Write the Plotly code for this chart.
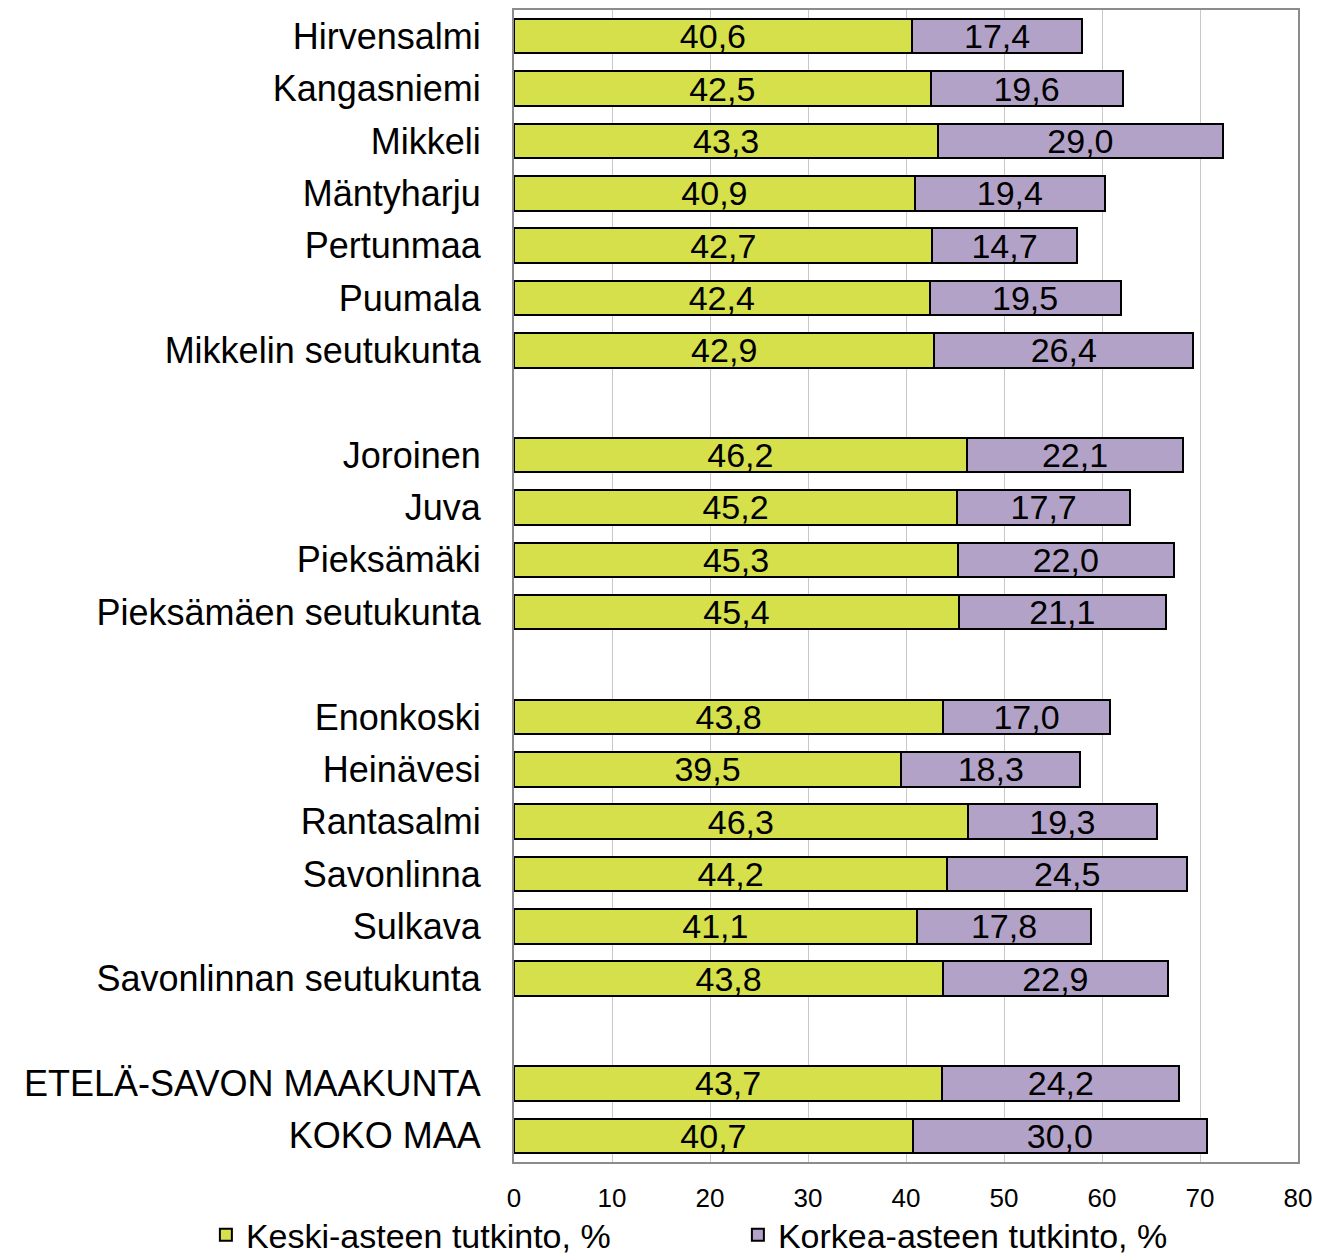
import plotly.graph_objects as go

categories = ["Hirvensalmi", "Kangasniemi", "Mikkeli", "Mäntyharju", "Pertunmaa", "Puumala",
              "Mikkelin seutukunta", " ",
              "Joroinen", "Juva", "Pieksämäki", "Pieksämäen seutukunta", "  ",
              "Enonkoski", "Heinävesi", "Rantasalmi", "Savonlinna", "Sulkava",
              "Savonlinnan seutukunta", "   ",
              "ETELÄ-SAVON MAAKUNTA", "KOKO MAA"]
keski = [40.6, 42.5, 43.3, 40.9, 42.7, 42.4, 42.9, None,
         46.2, 45.2, 45.3, 45.4, None,
         43.8, 39.5, 46.3, 44.2, 41.1, 43.8, None,
         43.7, 40.7]
korkea = [17.4, 19.6, 29.0, 19.4, 14.7, 19.5, 26.4, None,
          22.1, 17.7, 22.0, 21.1, None,
          17.0, 18.3, 19.3, 24.5, 17.8, 22.9, None,
          24.2, 30.0]
series_names = ["Keski-asteen tutkinto, %", "Korkea-asteen tutkinto, %"]
x_ticks = [0, 10, 20, 30, 40, 50, 60, 70, 80]

FONT = "Liberation Sans, Arial, sans-serif"

fig = go.Figure()
for name, vals, color in [(series_names[0], keski, "#D5E04B"),
                          (series_names[1], korkea, "#B3A2C7")]:
    fig.add_trace(go.Bar(
        y=categories, x=vals, name=name, orientation="h",
        marker=dict(color=color, line=dict(color="black", width=2)),
        texttemplate="%{x:.1f}", textposition="inside", insidetextanchor="middle",
        textfont=dict(family=FONT, size=34, color="black"),
        constraintext="none", cliponaxis=False,
    ))

fig.update_layout(
    template="none",
    barmode="stack", bargap=0.34,
    separators=", ",
    width=1324, height=1250,
    margin=dict(l=506, r=34, t=2, b=96, autoexpand=False),
    paper_bgcolor="white", plot_bgcolor="white",
    font=dict(family=FONT, color="black"),
    legend=dict(orientation="h", traceorder="normal",
                x=-0.393, xref="paper", xanchor="left",
                y=-0.0635, yref="paper", yanchor="middle",
                font=dict(family=FONT, size=34),
                itemwidth=30, entrywidth=487, bgcolor="rgba(0,0,0,0)"),
    showlegend=True,
)
fig.update_xaxes(range=[0, 80], tickvals=x_ticks, showgrid=True, gridcolor="#C8C8C8",
                 gridwidth=1, zeroline=False, showline=True, linecolor="#8C8C8C",
                 linewidth=2, mirror=True, ticks="", tickfont=dict(size=26),
                 ticklabelstandoff=12, automargin=False)
fig.update_yaxes(categoryorder="array", categoryarray=categories, autorange="reversed",
                 showline=True, linecolor="#8C8C8C", linewidth=2, mirror=True,
                 ticks="", tickfont=dict(size=36), ticklabelstandoff=24, showgrid=False,
                 automargin=False)

fig.write_html("out.html")
